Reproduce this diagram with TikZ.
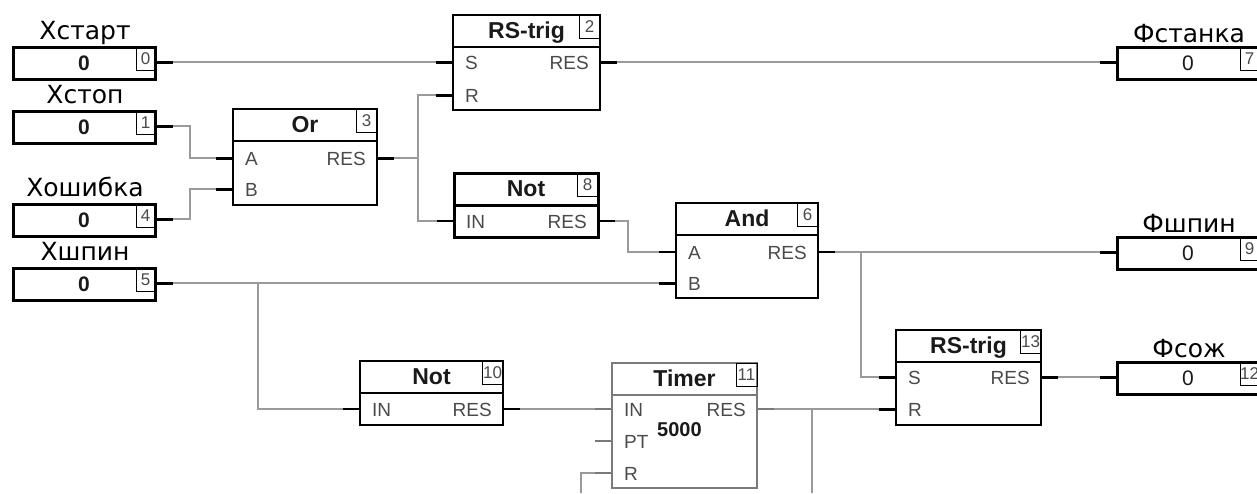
\documentclass[tikz,border=0pt]{standalone}
\usepackage{fontspec}
\setmainfont{Liberation Sans}
\newfontfamily\lblfont{DejaVu Sans}
\usetikzlibrary{calc}
\definecolor{wcol}{HTML}{9A9A9A}
\definecolor{tcol}{HTML}{1A1A1A}
\definecolor{pcol}{HTML}{4A4A4A}
\definecolor{gbox}{HTML}{7A7A7A}
\tikzset{
 wire/.style={draw=wcol, line width=1.1pt},
 stubl/.style={line width=3pt, black},
 gstub/.style={line width=2pt, gbox},
 blk/.style={draw=black, line width=2pt, fill=white, inner sep=0pt, outer sep=0pt, anchor=north west},
 sepl/.style={line width=2pt, black},
 idx/.style={draw=black, line width=1pt, inner sep=0pt, outer sep=0pt, anchor=north east, minimum width=21pt, minimum height=23pt, font=\fontsize{17}{17}\selectfont, text=pcol},
 ttl/.style={font=\fontsize{23}{23}\selectfont\bfseries, text=tcol, inner sep=0pt},
 prt/.style={font=\fontsize{19}{19}\selectfont, text=pcol, inner sep=0pt},
 lbl/.style={font=\lblfont\fontsize{25}{25}\selectfont, text=black, anchor=base, inner sep=0pt},
 iob/.style={draw=black, line width=3pt, fill=white, inner sep=0pt, outer sep=0pt, anchor=north west, minimum width=142pt, minimum height=32pt},
 valb/.style={font=\fontsize{21}{21}\selectfont\bfseries, text=tcol, anchor=base, inner sep=0pt},
 valr/.style={font=\fontsize{21}{21}\selectfont, text=tcol, anchor=base, inner sep=0pt},
}
% function block: [style] name, x1, y1, x2, y2, title, index
\newcommand\FBlock[8][]{%
  \node[blk,#1,minimum width={#5-#3},minimum height={#6-#4}] (#2) at (#3,#4) {};
  \draw[sepl,#1] (#3,#4+32) -- (#5,#4+32);
  \node[idx] (#2-n) at (#5,#4) {#8};
  \node[ttl,anchor=base] (#2-t) at ({(#3+#5)/2},#4+23) {#7};
}
% input port: [style] name, x(box edge), y, label
\newcommand\InP[5][stubl]{%
  \coordinate (#2) at ({#3-17},#4);
  \draw[#1] (#2) -- (#3,#4);
  \node[prt,anchor=base west] (#2-l) at ({#3+12},#4+7) {#5};
}
\newcommand\OutP[5][stubl]{%
  \coordinate (#2) at ({#3+17},#4);
  \draw[#1] (#3,#4) -- (#2);
  \node[prt,anchor=base east] (#2-l) at ({#3-11},#4+7) {#5};
}
% left input variable box: name, top, label, index
\newcommand\InBox[4]{%
  \node[iob] (#1) at (13,#2) {};
  \node[idx,minimum width=19pt] (#1-n) at (155,#2) {#4};
  \node[valb] (#1-v) at (84,#2+23) {0};
  \node[lbl] (#1-l) at (85,#2-8) {#3};
  \coordinate (#1-o) at (173,#2+15);
  \draw[stubl] (155,#2+15) -- (#1-o);
}
% right output variable box: name, top, label, index
\newcommand\OutBox[4]{%
  \node[iob] (#1) at (1117,#2) {};
  \node[idx,minimum width=19pt] (#1-n) at (1259,#2) {#4};
  \node[valr] (#1-v) at (1188,#2+23) {0};
  \node[lbl] (#1-l) at (1189,#2-5) {#3};
  \coordinate (#1-i) at (1100,#2+15);
  \draw[stubl] (#1-i) -- (1117,#2+15);
}
\begin{document}
\begin{tikzpicture}[x=1pt,y=-1pt]
\useasboundingbox (0,0) rectangle (1257,493);
\fill[white] (0,0) rectangle (1257,493);
\clip (0,0) rectangle (1257,493);

% variables
\InBox{xst}{47}{Хстарт}{0}
\InBox{xsp}{111}{Хстоп}{1}
\InBox{xer}{204}{Хошибка}{4}
\InBox{xsh}{268}{Хшпин}{5}
\OutBox{fst}{47}{Фстанка}{7}
\OutBox{fsh}{237}{Фшпин}{9}
\OutBox{fso}{362}{Фсож}{12}

% blocks
\FBlock{rs2}{453}{15}{600}{110}{RS-trig}{2}
\InP{rs2-S}{453}{62}{S}
\InP{rs2-R}{453}{95}{R}
\OutP{rs2-o}{600}{62}{RES}

\FBlock{or}{233}{109}{377}{205}{Or}{3}
\InP{or-A}{233}{158}{A}
\InP{or-B}{233}{189}{B}
\OutP{or-o}{377}{158}{RES}

\FBlock[line width=3pt]{not8}{454}{173}{598}{237}{Not}{8}
\InP[line width=2.5pt]{not8-in}{454}{221}{IN}
\OutP[line width=2.5pt]{not8-o}{598}{221}{RES}

\FBlock{and}{676}{203}{818}{298}{And}{6}
\InP[line width=2.5pt]{and-A}{676}{252}{A}
\InP{and-B}{676}{283}{B}
\OutP[line width=2.5pt]{and-o}{818}{252}{RES}

\FBlock{rs13}{896}{330}{1041}{425}{RS-trig}{13}
\InP{rs13-S}{896}{377}{S}
\InP{rs13-R}{896}{409}{R}
\OutP{rs13-o}{1041}{377}{RES}

\FBlock{not10}{360}{361}{503}{425}{Not}{10}
\InP[line width=2.5pt]{not10-in}{360}{409}{IN}
\OutP[line width=2.5pt]{not10-o}{503}{409}{RES}

\FBlock[draw=gbox]{tmr}{612}{363}{757}{488}{Timer}{11}
\InP[gstub]{tmr-in}{612}{409}{IN}
\InP[gstub]{tmr-pt}{612}{441}{PT}
\InP[line width=2.5pt,gbox]{tmr-R}{612}{473}{R}
\OutP[gstub]{tmr-o}{757}{409}{RES}
\node[font=\fontsize{20}{20}\selectfont\bfseries, text=tcol, anchor=base west, inner sep=0pt] (tmr-v) at (657,436) {5000};

% connections
\draw[wire] (xst-o) -- (rs2-S);
\draw[wire] (xsp-o) -- ++(17,0) |- (or-A);
\draw[wire] (xer-o) -- ++(17,0) |- (or-B);
\coordinate (j1) at (418,158);
\draw[wire] (or-o) -- (j1);
\draw[wire] (rs2-R) -| (j1) |- (not8-in);
\draw[wire] (rs2-o) -- (fst-i);
\draw[wire] (not8-o) -- ++(13,0) |- (and-A);
\draw[wire] (xsh-o) -- (and-B);
\coordinate (j2) at (258,283);
\draw[wire] (j2) |- (not10-in);
\draw[wire] (and-o) -- (fsh-i);
\coordinate (j3) at (861,252);
\draw[wire] (j3) |- (rs13-S);
\draw[wire] (rs13-o) -- (fso-i);
\draw[wire] (not10-o) -- (tmr-in);
\draw[wire] (tmr-o) -- (rs13-R);
\coordinate (j4) at (812,409);
\coordinate (e1) at (812,493);
\draw[wire] (j4) -- (e1);
\coordinate (e2) at (581,493);
\draw[wire] (e2) |- (tmr-R);
\end{tikzpicture}
\end{document}
